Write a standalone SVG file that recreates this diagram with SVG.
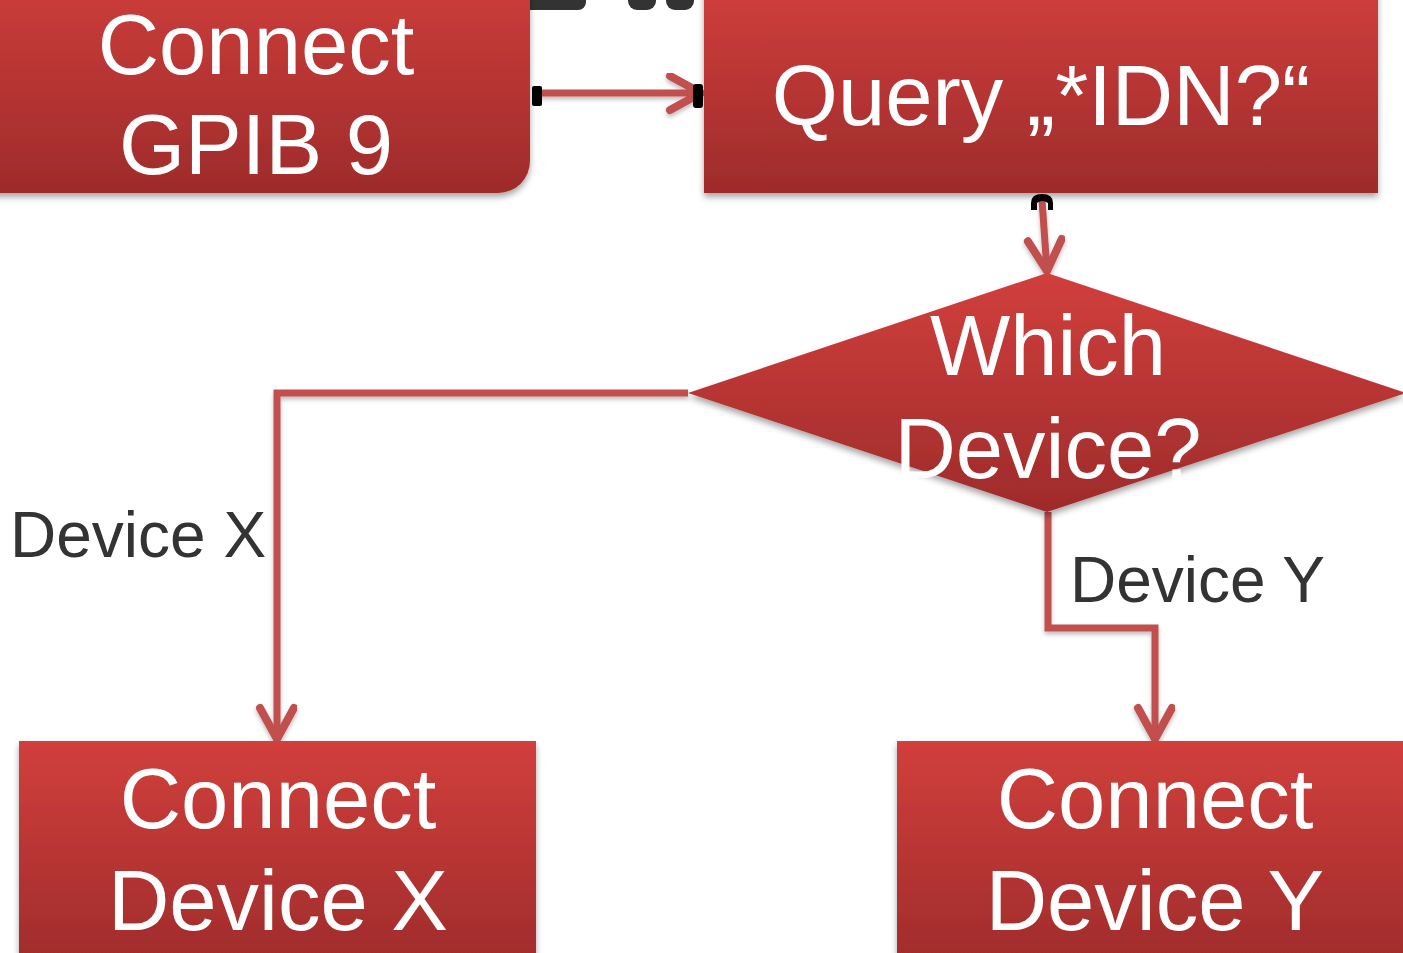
<svg xmlns="http://www.w3.org/2000/svg" width="1403" height="953" viewBox="0 0 1403 953">
<defs>
<linearGradient id="red" x1="0" y1="0" x2="0" y2="1">
<stop offset="0" stop-color="#d13f3c"/>
<stop offset="1" stop-color="#9e2b2b"/>
</linearGradient>
<filter id="sh" x="-10%" y="-10%" width="120%" height="130%">
<feDropShadow dx="0" dy="4" stdDeviation="3" flood-color="#000" flood-opacity="0.35"/>
</filter>
<filter id="lsh" filterUnits="userSpaceOnUse" x="0" y="0" width="1403" height="953">
<feDropShadow dx="0" dy="3" stdDeviation="2" flood-color="#000" flood-opacity="0.25"/>
</filter>
<marker id="arr" markerUnits="userSpaceOnUse" markerWidth="44" markerHeight="44" refX="36" refY="20" orient="auto">
<path d="M5,3 L36,20 L5,37" fill="none" stroke="#c0504d" stroke-width="8" stroke-linecap="round" stroke-linejoin="round"/>
</marker>
<style>
.box{fill:url(#red);filter:url(#sh);}
.t{font-family:"Liberation Sans",Arial,sans-serif;font-size:85px;fill:#fff;text-anchor:middle;}
.lbl{font-family:"Liberation Sans",Arial,sans-serif;font-size:64px;fill:#333;}
.c{fill:none;stroke:#c0504d;stroke-width:7;filter:url(#lsh);}
.h{fill:#000;}
</style>
</defs>
<rect width="1403" height="953" fill="#fff"/>
<g id="title-fragment" fill="#333">
<rect x="520" y="-10" width="66" height="20" rx="8"/>
<rect x="628" y="-10" width="28" height="20" rx="9"/>
<rect x="666" y="-10" width="28" height="20" rx="9"/>
</g>
<g id="connectors">
<path class="c" d="M536,93 L701,93" marker-end="url(#arr)"/>
<path class="c" d="M1042,200 L1047,271" marker-end="url(#arr)"/>
<path class="c" d="M688,393 L277,393 L277,739" marker-end="url(#arr)"/>
<path class="c" d="M1048,512 L1048,628 L1155,628 L1155,739" marker-end="url(#arr)"/>
<rect class="h" x="532" y="86" width="10" height="20" rx="2"/>
<rect class="h" x="693" y="84" width="10" height="24" rx="3"/>
<path class="h" d="M1031,210 L1031,203 Q1031,194 1042,194 Q1053,194 1053,203 L1053,210 L1048,210 L1048,203 Q1042,199 1037,203 L1037,210 Z"/>
</g>
<g id="node-gpib">
<rect class="box" x="-40" y="-40" width="570" height="233" rx="32"/>
<text class="t" x="256" y="74">Connect</text>
<text class="t" x="256" y="174">GPIB 9</text>
</g>
<g id="node-query">
<rect class="box" x="704" y="-20" width="674" height="213"/>
<text class="t" x="1041" y="125">Query „*IDN?“</text>
</g>
<g id="node-which">
<polygon class="box" points="1047,273 1406,393 1047,512 688,393"/>
<text class="t" x="1048" y="375">Which</text>
<text class="t" x="1048" y="478">Device?</text>
</g>
<g id="node-devx">
<rect class="box" x="19" y="741" width="517" height="230"/>
<text class="t" x="278" y="828">Connect</text>
<text class="t" x="278" y="930">Device X</text>
</g>
<g id="node-devy">
<rect class="box" x="897" y="741" width="530" height="230"/>
<text class="t" x="1155" y="828">Connect</text>
<text class="t" x="1155" y="930">Device Y</text>
</g>
<g id="labels">
<text class="lbl" x="10" y="557">Device X</text>
<text class="lbl" x="1070" y="602">Device Y</text>
</g>
</svg>
